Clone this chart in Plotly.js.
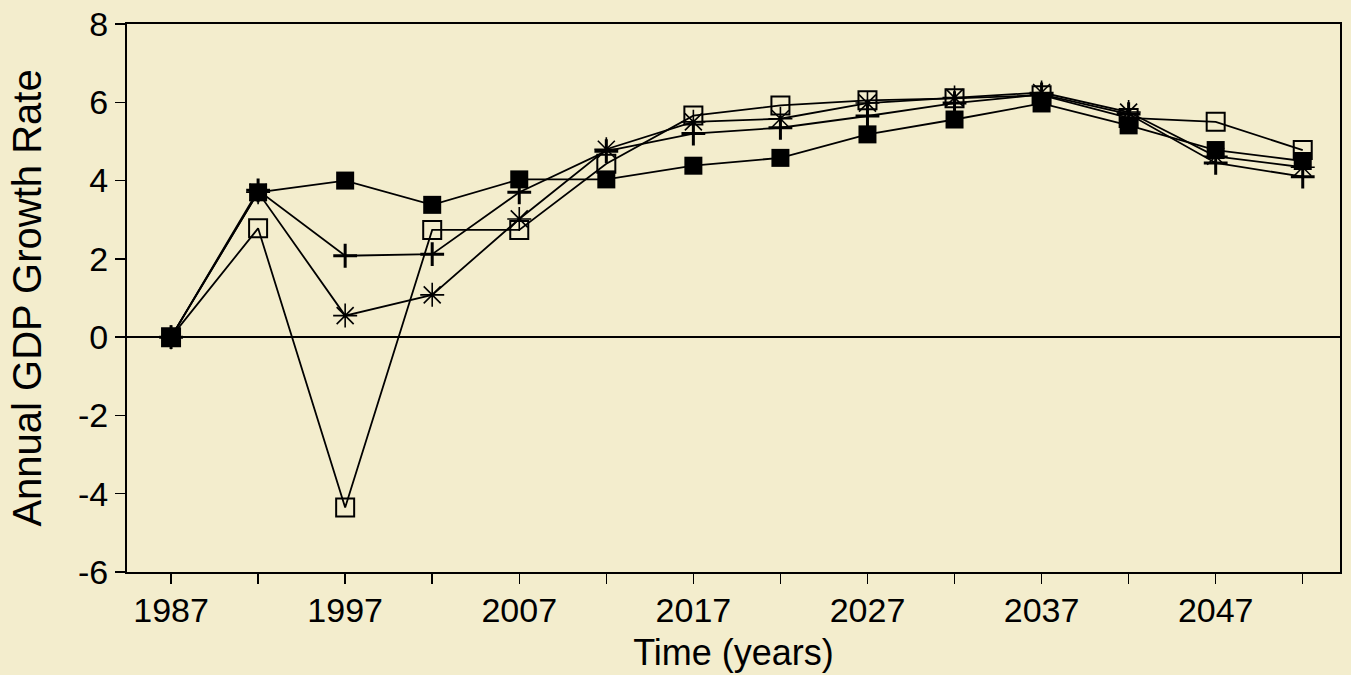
<!DOCTYPE html>
<html>
<head>
<meta charset="utf-8">
<script src="https://cdn.plot.ly/plotly-3.0.1.min.js"></script>
<style>
  html, body { margin: 0; padding: 0; background: #f3edcd; }
  #chart { width: 1351px; height: 675px; }
</style>
</head>
<body>
<div id="chart"></div>
<script>
const years = [1987, 1992, 1997, 2002, 2007, 2012, 2017, 2022, 2027, 2032, 2037, 2042, 2047, 2052];
const filledSquare = [0, 3.70, 4.00, 3.38, 4.03, 4.03, 4.38, 4.58, 5.18, 5.56, 5.97, 5.41, 4.78, 4.50];
const plusSeries   = [0, 3.75, 2.08, 2.12, 3.70, 4.75, 5.20, 5.35, 5.65, 5.98, 6.20, 5.70, 4.45, 4.10];
const asterisk     = [0, 3.70, 0.55, 1.08, 3.02, 4.80, 5.50, 5.58, 5.98, 6.12, 6.25, 5.75, 4.62, 4.34];
const openSquare   = [0, 2.78, -4.35, 2.74, 2.74, 4.43, 5.66, 5.92, 6.05, 6.10, 6.18, 5.60, 5.50, 4.78];

const xTickVals = [1987, 1992, 1997, 2002, 2007, 2012, 2017, 2022, 2027, 2032, 2037, 2042, 2047, 2052];
const xTickText = ['1987', '', '1997', '', '2007', '', '2017', '', '2027', '', '2037', '', '2047', ''];
const yTickVals = [-6, -4, -2, 0, 2, 4, 6, 8];
const yTickText = ['-6', '-4', '-2', '0', '2', '4', '6', '8'];

const lineStyle = { color: '#000000', width: 1.8 };

const traces = [
  { x: years, y: openSquare, mode: 'lines+markers', line: lineStyle,
    marker: { symbol: 'square-open', size: 18, color: '#000000', line: { width: 2, color: '#000000' } } },
  { x: years, y: asterisk, mode: 'lines+markers', line: lineStyle,
    marker: { symbol: 'asterisk-open', size: 20, color: '#000000', line: { width: 1.6, color: '#000000' } } },
  { x: years, y: plusSeries, mode: 'lines+markers', line: lineStyle,
    marker: { symbol: 'cross-thin-open', size: 17, color: '#000000', line: { width: 3, color: '#000000' } } },
  { x: years, y: filledSquare, mode: 'lines+markers', line: lineStyle,
    marker: { symbol: 'square', size: 18, color: '#000000', line: { width: 0 } } }
];

const layout = {
  width: 1351, height: 675,
  paper_bgcolor: '#f3edcd', plot_bgcolor: '#f3edcd',
  showlegend: false,
  margin: { l: 127, r: 11, t: 24, b: 103 },
  font: { family: 'Liberation Sans, Arial, sans-serif', color: '#000000' },
  xaxis: {
    range: [1984.47, 2054.14],
    tickmode: 'array', tickvals: xTickVals, ticktext: xTickText,
    ticks: 'outside', ticklen: 10, tickwidth: 1.5, tickcolor: '#000000',
    ticklabelstandoff: -3,
    showline: true, linecolor: '#000000', linewidth: 2, mirror: true,
    showgrid: false, zeroline: false,
    tickfont: { size: 34 },
    title: { text: 'Time (years)', font: { size: 36 }, standoff: 12 }
  },
  yaxis: {
    range: [-6, 8],
    tickmode: 'array', tickvals: yTickVals, ticktext: yTickText,
    ticks: 'outside', ticklen: 10, tickwidth: 1.5, tickcolor: '#000000',
    showline: true, linecolor: '#000000', linewidth: 2, mirror: true,
    showgrid: false,
    zeroline: true, zerolinecolor: '#000000', zerolinewidth: 1.6,
    tickfont: { size: 34 },
    title: { text: 'Annual GDP Growth Rate', font: { size: 40 }, standoff: 24 }
  }
};

Plotly.newPlot('chart', traces, layout, { displayModeBar: false, staticPlot: true });
</script>
</body>
</html>
